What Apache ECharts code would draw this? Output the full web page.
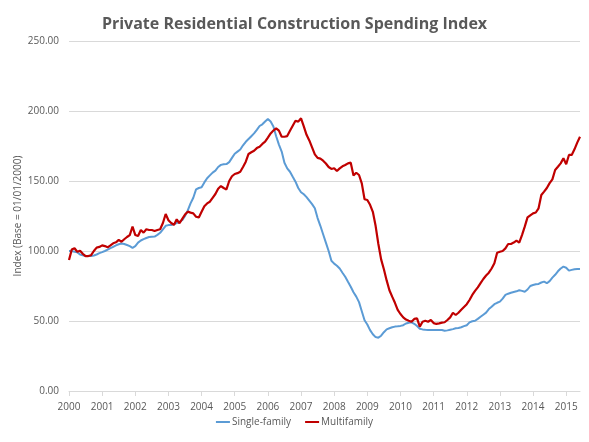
<!DOCTYPE html>
<html>
<head>
<meta charset="utf-8">
<script src="https://cdn.jsdelivr.net/npm/echarts@6/dist/echarts.min.js"></script>
<style>
html,body{margin:0;padding:0;background:#fff;}
#chart{width:589px;height:442px;}
</style>
</head>
<body>
<div id="chart"></div>
<script>
var yearLabels = ['2000','2001','2002','2003','2004','2005','2006','2007','2008','2009','2010','2011','2012','2013','2014','2015'];
var monthsInLastYear = 6;

var singleFamily = [
  100, 100, 99.5, 99, 97.5, 97, 96.4, 96.4, 96.4, 96.8, 97.5, 98.5,
  99.2, 100, 101, 102, 103, 104, 104.8, 105.3, 105, 104.3, 103.5, 102.3,
  103.5, 106, 107.5, 108.5, 109.3, 110, 110.2, 110.3, 111.5, 113, 115.5, 118,
  118.5, 118.6, 119.3, 120, 121, 122, 125, 129, 134, 138, 144, 145,
  145.5, 149, 152, 154, 156, 157.4, 160, 161.5, 162, 162.1, 163.5, 166.5,
  169.5, 171, 172.5, 175.5, 178, 180, 182, 184, 186.5, 189.3, 190.5, 192.5,
  194.3, 192.5, 189, 182, 176, 171, 163, 159, 156.6, 153, 149.5, 145,
  142, 140.5, 138.5, 136, 133.5, 130.5, 123.5, 118, 112, 106, 100, 93,
  91, 89.5, 87.5, 84.5, 81.6, 78, 74.5, 70.5, 67.4, 63.5, 57, 50.5,
  47.5, 43.5, 40.5, 38.5, 38.1, 39.5, 42, 44, 44.8, 45.5, 46, 46.2,
  46.5, 47, 48.2, 48.8, 49.1, 48, 46.4, 44.5, 44, 43.7, 43.6, 43.6,
  43.6, 43.6, 43.6, 43.6, 43.1, 43.3, 43.8, 44.2, 44.8, 45, 45.5, 46.3,
  47, 49, 49.8, 50.2, 51.5, 53, 54.5, 56, 58.5, 60.2, 62, 63,
  63.8, 66, 68.6, 69.5, 70.2, 70.7, 71.2, 72, 71.5, 70.9, 72.5, 75,
  75.7, 76.2, 76.5, 77.5, 78.1, 77, 78.5, 81, 83, 85.5, 87.5, 88.8,
  88, 86, 86.5, 87, 87.2, 87.1
];

var multifamily = [
  93.6, 101, 102, 99.5, 100.2, 98, 96.4, 96.4, 97, 100, 102.4, 102.9,
  104, 103.5, 102.6, 104, 105.5, 106.2, 107.9, 106.6, 108.4, 110, 111.4, 117.5,
  111.4, 110.7, 115, 113.1, 115.5, 115, 115, 114.3, 115, 115.5, 120, 126.4,
  122, 120, 118.6, 122.6, 119.8, 123, 126, 128.1, 127.4, 126.9, 124.5, 124,
  128, 132, 134, 135.2, 138, 140.7, 144.5, 146.4, 145, 144, 150, 153.4,
  155, 155.6, 156.6, 160, 163.8, 169.3, 170.5, 171.6, 173.5, 174.5, 176.5, 178.1,
  181, 184, 186, 187.6, 186, 181.6, 181.6, 182.1, 185.9, 189.5, 193, 192.4,
  194.8, 189, 183, 179, 174, 169, 166.5, 166, 164.5, 162.5, 160, 158.6,
  159.1, 157.1, 159, 160.5, 161.4, 162.6, 163.1, 154, 155.9, 154.3, 148.3, 137,
  136.4, 133, 128, 118, 105, 94, 87, 79, 72, 67.4, 63, 58,
  55, 52.6, 51, 50.2, 49.5, 51.5, 51.9, 46, 49.5, 50.2, 49.5, 50.7,
  48.5, 47.9, 48.3, 48.8, 49.1, 50.7, 52.6, 55.9, 54.3, 55.9, 58, 60,
  62, 65, 68.6, 71.5, 74, 77, 80, 82.5, 84.5, 87.5, 91.2, 98.8,
  99.5, 100, 101.9, 105, 105, 106, 107.4, 106, 111.4, 117.4, 124, 125.5,
  126.9, 127.5, 130.5, 140, 142.4, 145, 148.5, 151.2, 157.9, 160.2, 162.6, 166.2,
  162, 168.6, 168.6, 172.6, 177.4, 181.6
];

// month categories built from the year labels
var months = [];
yearLabels.forEach(function (y, i) {
  var n = (i === yearLabels.length - 1) ? monthsInLastYear : 12;
  for (var k = 0; k < n; k++) months.push(k === 0 ? y : y + '-' + (k + 1));
});

var chart = echarts.init(document.getElementById('chart'), null, {renderer: 'canvas'});
chart.setOption({
  animation: false,
  backgroundColor: '#ffffff',
  title: {
    text: 'Private Residential Construction Spending Index',
    left: 'center',
    top: 11,
    textStyle: {
      fontFamily: 'Open Sans',
      fontSize: 16,
      fontWeight: 'bold',
      color: '#595959'
    }
  },
  legend: {
    bottom: 10,
    left: 'center',
    icon: 'rect',
    itemWidth: 14,
    itemHeight: 2,
    itemGap: 14,
    textStyle: {fontFamily: 'Open Sans', fontSize: 10, color: '#595959', padding: [0, 0, 0, -3]},
    data: ['Single-family', 'Multifamily']
  },
  grid: {left: 69, right: 9, top: 41, bottom: 51, containLabel: false},
  xAxis: {
    type: 'category',
    data: months,
    boundaryGap: false,
    axisLine: {lineStyle: {color: '#D9D9D9', width: 1}},
    axisTick: {
      show: true,
      length: 5,
      lineStyle: {color: '#D9D9D9'},
      interval: function (idx) { return idx % 12 === 0; }
    },
    axisLabel: {
      interval: function (idx) { return idx % 12 === 0; },
      formatter: function (v) { return v.length === 4 ? v : ''; },
      fontFamily: 'Open Sans',
      fontSize: 10,
      color: '#595959',
      margin: 11
    },
    splitLine: {show: false}
  },
  yAxis: {
    type: 'value',
    min: 0,
    max: 250,
    interval: 50,
    name: 'Index (Base = 01/01/2000)',
    nameLocation: 'middle',
    nameGap: 46,
    nameMoveOverlap: false,
    nameTextStyle: {fontFamily: 'Open Sans', fontSize: 10, color: '#595959'},
    axisLine: {show: false},
    axisTick: {show: false},
    axisLabel: {
      formatter: function (v) { return v.toFixed(2); },
      fontFamily: 'Open Sans',
      fontSize: 10,
      color: '#595959',
      margin: 10
    },
    splitLine: {lineStyle: {color: '#D9D9D9', width: 1}}
  },
  series: [
    {
      name: 'Single-family',
      type: 'line',
      data: singleFamily,
      showSymbol: false,
      symbol: 'none',
      lineStyle: {color: '#5B9BD5', width: 2},
      itemStyle: {color: '#5B9BD5'}
    },
    {
      name: 'Multifamily',
      type: 'line',
      data: multifamily,
      showSymbol: false,
      symbol: 'none',
      lineStyle: {color: '#C00000', width: 2.2},
      itemStyle: {color: '#C00000'}
    }
  ]
});
</script>
</body>
</html>
